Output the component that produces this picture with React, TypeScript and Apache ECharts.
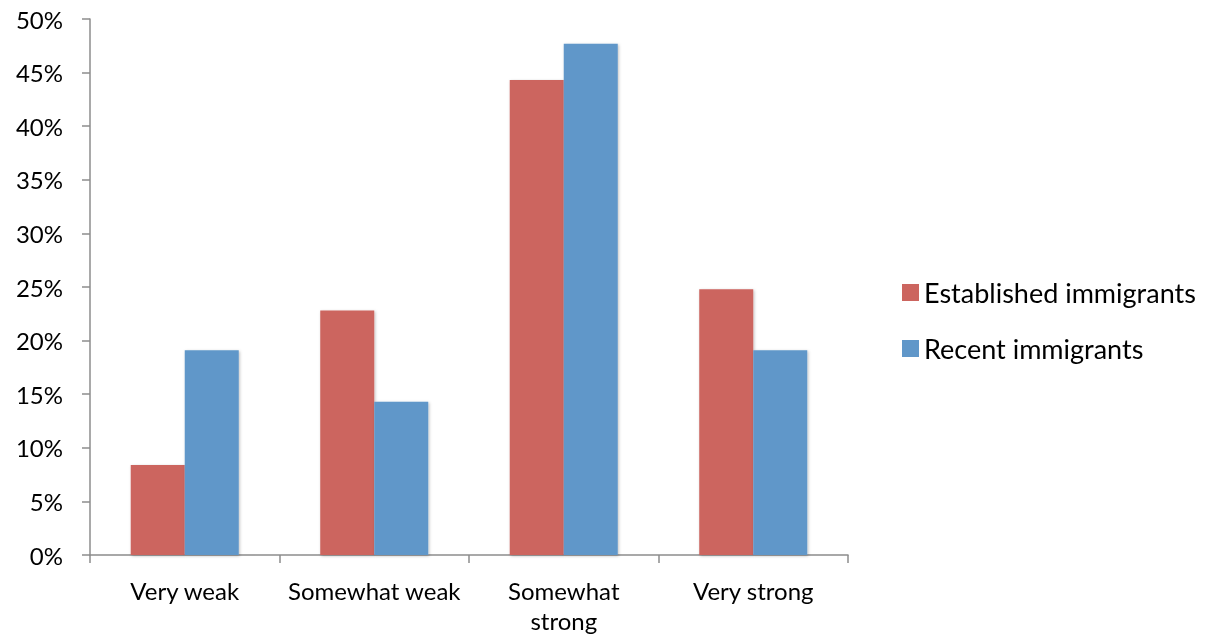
import React, { useEffect, useRef } from "react";
import * as echarts from "echarts";

const categories = ["Very weak", "Somewhat weak", "Somewhat strong", "Very strong"];
const established = [8.4, 22.8, 44.3, 24.8];
const recent = [19.1, 14.3, 47.7, 19.1];
const seriesNames = ["Established immigrants", "Recent immigrants"];

const FONT = "Lato, 'Open Sans', sans-serif";

export default function App() {
  const ref = useRef<HTMLDivElement>(null);
  useEffect(() => {
    if (!ref.current) return;
    const chart = echarts.init(ref.current, null, { renderer: "svg" });
    const barStyle = (color: string) => ({
      color,
      shadowColor: "rgba(0,0,0,0.25)",
      shadowBlur: 3,
      shadowOffsetX: 1,
      shadowOffsetY: 1,
    });
    chart.setOption({
      animation: false,
      textStyle: { fontFamily: FONT },
      grid: { left: 90, right: 361, top: 19, bottom: 79, containLabel: false },
      legend: {
        orient: "vertical",
        left: 897,
        top: 274,
        itemWidth: 17,
        itemHeight: 17,
        itemGap: 29,
        icon: "rect",
        textStyle: { fontFamily: FONT, fontSize: 27, color: "#000", padding: [0, 0, 0, 0] },
        data: seriesNames,
      },
      xAxis: {
        type: "category",
        data: categories,
        axisLine: { lineStyle: { color: "#8c8c8c", width: 1.5 } },
        axisTick: { show: true, length: 8, lineStyle: { color: "#8c8c8c", width: 1.5 } },
        axisLabel: {
          interval: 0,
          fontFamily: FONT,
          fontSize: 24,
          color: "#000",
          margin: 20,
          lineHeight: 30,
          formatter: (v: string) => (v === "Somewhat strong" ? "Somewhat\nstrong" : v),
        },
      },
      yAxis: {
        type: "value",
        min: 0,
        max: 50,
        interval: 5,
        splitLine: { show: false },
        axisLine: { show: true, lineStyle: { color: "#8c8c8c", width: 1.5 } },
        axisTick: { show: true, length: 8, lineStyle: { color: "#8c8c8c", width: 1.5 } },
        axisLabel: {
          fontFamily: FONT,
          fontSize: 24,
          color: "#000",
          margin: 27,
          formatter: "{value}%",
        },
      },
      series: [
        {
          name: seriesNames[0],
          type: "bar",
          data: established,
          barGap: "0%",
          barCategoryGap: "43%",
          itemStyle: barStyle("#CC655F"),
        },
        {
          name: seriesNames[1],
          type: "bar",
          data: recent,
          barGap: "0%",
          barCategoryGap: "43%",
          itemStyle: barStyle("#6097C9"),
        },
      ],
    });
    return () => chart.dispose();
  }, []);
  return (
    <div
      ref={ref}
      style={{ position: "fixed", left: 0, top: 0, width: 1209, height: 635 }}
    />
  );
}
